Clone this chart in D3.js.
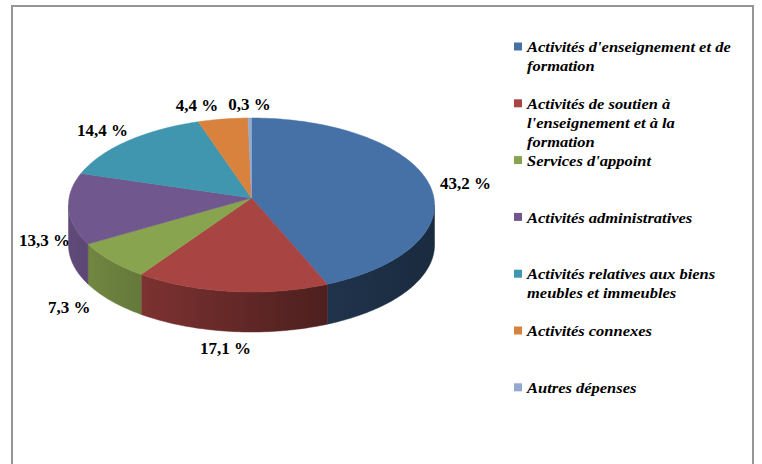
<!DOCTYPE html>
<html>
<head>
<meta charset="utf-8">
<script src="https://cdn.jsdelivr.net/npm/d3@7"></script>
<style>
  body { margin: 0; background: #fff; }
  svg { display: block; }
</style>
</head>
<body>
<svg id="chart" width="762" height="464"></svg>
<script>
// data
const categories = [
  "Activités d'enseignement et de formation",
  "Activités de soutien à l'enseignement et à la formation",
  "Services d'appoint",
  "Activités administratives",
  "Activités relatives aux biens meubles et immeubles",
  "Activités connexes",
  "Autres dépenses"
];
const shares = [43.2, 17.1, 7.3, 13.3, 14.4, 4.4, 0.3];
const colors = ["#4571A6", "#A84442", "#88A44F", "#70578E", "#3F96AE", "#D9823D", "#93A9D0"];

const W = 762, H = 464;
const cx = 251.5, cy = 205, rx = 183, ry = 87, depth = 40, tilt = 7;
const frameX = 12;
const serif = "Liberation Serif";

const svg = d3.select('#chart');
const defs = svg.append('defs');

// frame
svg.append('rect')
  .attr('x', frameX).attr('y', 6)
  .attr('width', 741).attr('height', H + 10)
  .attr('fill', 'none')
  .attr('stroke', '#959595')
  .attr('stroke-width', 2);

const arcs = d3.pie().sort(null).value(d => d)(shares);

const pt = (a, dy = 0) => [cx + rx * Math.sin(a), cy - ry * Math.cos(a) + dy];
const shade = (c, k) => { const r = d3.rgb(c); return d3.rgb(r.r * k, r.g * k, r.b * k); };

// darker sides, lighter on the left
const lightX = d3.scaleLinear().domain([cx - rx, 330, cx + rx]).range([0.85, 0.45, 0.38]);
colors.forEach((c, i) => {
  const g = defs.append('linearGradient')
    .attr('id', 'side' + i)
    .attr('gradientUnits', 'userSpaceOnUse')
    .attr('x1', cx - rx).attr('x2', cx + rx).attr('y1', 0).attr('y2', 0);
  [cx - rx, 200, 270, 330, cx + rx].forEach(x => {
    g.append('stop')
      .attr('offset', (x - (cx - rx)) / (2 * rx))
      .attr('stop-color', shade(c, lightX(x)));
  });
});

function sample(a0, a1, dy) {
  const n = Math.max(2, Math.ceil(Math.abs(a1 - a0) / 0.02));
  return d3.range(n + 1).map(j => pt(a0 + (a1 - a0) * j / n, dy));
}

// side walls (front half only)
const sides = svg.append('g');
arcs.forEach((d, i) => {
  const s = Math.max(d.startAngle, Math.PI / 2), e = Math.min(d.endAngle, 3 * Math.PI / 2);
  if (e <= s) return;
  const pts = sample(s, e, 0).concat(sample(e, s, depth));
  sides.append('path')
    .attr('d', d3.line()(pts) + 'Z')
    .attr('fill', `url(#side${i})`)
    .attr('stroke', `url(#side${i})`)
    .attr('stroke-width', 0.5);
});

// top faces
const tops = svg.append('g');
arcs.forEach((d, i) => {
  const pts = [[cx, cy - tilt]].concat(sample(d.startAngle, d.endAngle, 0));
  tops.append('path')
    .attr('d', d3.line()(pts) + 'Z')
    .attr('fill', colors[i])
    .attr('stroke', colors[i])
    .attr('stroke-width', 0.5);
});

// percentage labels
const fmt = v => d3.format('.1f')(v).replace('.', ',') + ' %';
const labG = svg.append('g');
const labs = arcs.map((d, i) => {
  const a = (d.startAngle + d.endAngle) / 2;
  const front = Math.cos(a) < 0;
  const x = cx + (rx + (front ? 54 : 36)) * Math.sin(a);
  const y = front
    ? cy + depth * 0.75 - (ry + 27) * Math.cos(a)
    : cy - (ry + 14) * Math.cos(a);
  return { x, y, text: fmt(shares[i]) };
});
const labText = labG.selectAll('text')
  .data(labs)
  .join('text')
  .style('font-family', serif)
  .style('font-weight', 'bold')
  .style('font-size', '17px')
  .attr('text-anchor', 'middle')
  .attr('dominant-baseline', 'central')
  .text(d => d.text)
  .each(function(d) { d.w = this.getComputedTextLength(); });
// keep inside the frame, and push overlapping labels apart (right to left)
labs.forEach(l => { l.x = Math.max(l.x, frameX + 7 + l.w / 2); });
for (let i = labs.length - 2; i >= 0; i--) {
  const n = labs[i + 1], l = labs[i];
  const gap = (n.w + l.w) / 2 + 10;
  if (Math.abs(n.y - l.y) < 18 && Math.abs(n.x - l.x) < gap) l.x = n.x - gap;
}
labText.attr('x', d => d.x).attr('y', d => d.y);

// legend (text is a little wider than the font, as in the source)
const legX = 514, legY0 = 47, legStep = 56.8, lineH = 19, stretch = 1.1, maxW = 193;
const leg = svg.append('g');
categories.forEach((name, i) => {
  const y = legY0 + i * legStep;
  leg.append('rect')
    .attr('x', legX).attr('y', y - 4.5)
    .attr('width', 8).attr('height', 8)
    .attr('fill', colors[i]);
  const t = leg.append('text')
    .attr('transform', `translate(${legX + 13},0) scale(${stretch},1)`)
    .style('font-family', serif)
    .style('font-weight', 'bold')
    .style('font-style', 'italic')
    .style('font-size', '15px');
  const words = name.split(' ');
  let line = [], k = 0;
  let ts = t.append('tspan').attr('x', 0).attr('y', y).attr('dy', '0.35em');
  words.forEach(w => {
    line.push(w);
    ts.text(line.join(' '));
    if (ts.node().getComputedTextLength() > maxW && line.length > 1) {
      line.pop();
      ts.text(line.join(' '));
      line = [w];
      k++;
      ts = t.append('tspan').attr('x', 0).attr('y', y + k * lineH).attr('dy', '0.35em').text(w);
    }
  });
});
</script>
</body>
</html>
